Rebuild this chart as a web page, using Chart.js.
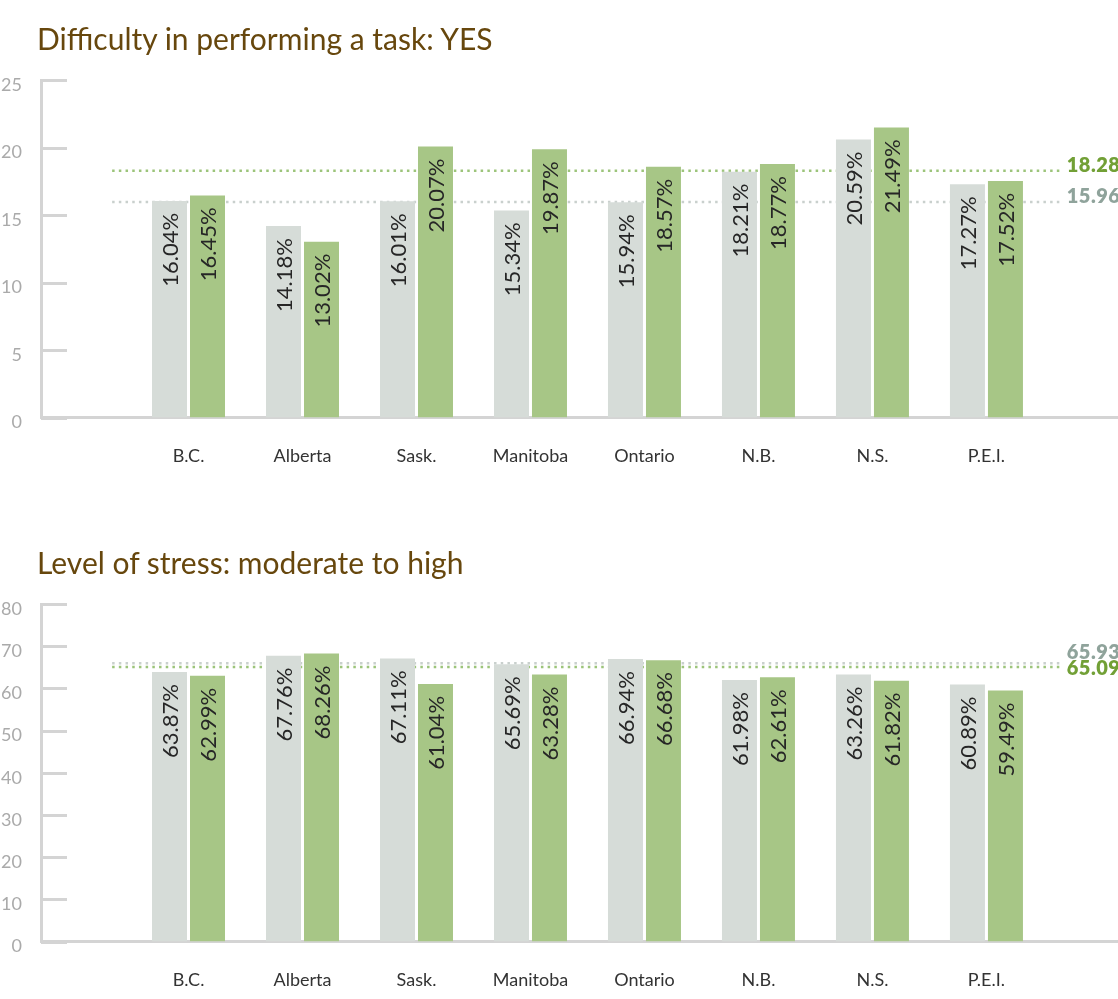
<!DOCTYPE html>
<html><head><meta charset="utf-8">
<script src="https://cdn.jsdelivr.net/npm/chart.js@4"></script>
<style>
html,body{margin:0;padding:0;background:#fff;}
body{width:1118px;height:999px;position:relative;overflow:hidden;font-family:Lato, sans-serif;}
.box{position:absolute;left:0;width:1118px;height:475px;}
.title{position:absolute;left:37px;font-family:Lato, sans-serif;font-size:30px;line-height:30px;color:#67470d;white-space:nowrap;}
</style></head><body>
<div class="box" style="top:0px"><canvas id="c1"></canvas></div>
<div class="box" style="top:524px"><canvas id="c2"></canvas></div>
<div class="title" style="top:23px">Difficulty in performing a task: YES</div>
<div class="title" style="top:547px">Level of stress: moderate to high</div>
<script>
const categories = ['B.C.', 'Alberta', 'Sask.', 'Manitoba', 'Ontario', 'N.B.', 'N.S.', 'P.E.I.'];

const taskGrey  = [16.04, 14.18, 16.01, 15.34, 15.94, 18.21, 20.59, 17.27];
const taskGreen = [16.45, 13.02, 20.07, 19.87, 18.57, 18.77, 21.49, 17.52];
const taskAvgGrey = 15.96;
const taskAvgGreen = 18.28;
const taskTicks = [0, 5, 10, 15, 20, 25];

const stressGrey  = [63.87, 67.76, 67.11, 65.69, 66.94, 61.98, 63.26, 60.89];
const stressGreen = [62.99, 68.26, 61.04, 63.28, 66.68, 62.61, 61.82, 59.49];
const stressAvgGrey = 65.93;
const stressAvgGreen = 65.09;
const stressTicks = [0, 10, 20, 30, 40, 50, 60, 70, 80];

const GREY_BAR = '#d6dcd8', GREEN_BAR = '#a7c686';
const GREY_DOT = '#c9d0cd', GREEN_DOT = '#9cc47a';
const GREY_TXT = '#8fa39b', GREEN_TXT = '#72a036';
const AXIS = '#d4d4d4';

const decorPlugin = {
  id: 'decor',
  beforeDatasetsDraw(chart, args, opts) {
    const ctx = chart.ctx, x = chart.scales.x, y = chart.scales.y, ca = chart.chartArea;
    ctx.save();
    // tick stubs on y axis
    ctx.strokeStyle = AXIS; ctx.lineWidth = 3;
    y.ticks.forEach(t => {
      const py = Math.round(y.getPixelForValue(t.value)) + 0.5;
      ctx.beginPath(); ctx.moveTo(ca.left, py); ctx.lineTo(ca.left + 26, py); ctx.stroke();
    });
    // average dotted lines
    const x0 = x.getPixelForValue(-0.67), x1 = x.getPixelForValue(7.66);
    const lines = opts.avgs.map(a => ({...a, py: y.getPixelForValue(a.value)}));
    ctx.lineWidth = 2.5; ctx.setLineDash([2.5, 4.2]);
    lines.forEach(l => {
      ctx.strokeStyle = l.dot;
      ctx.beginPath(); ctx.moveTo(x0, l.py); ctx.lineTo(x1, l.py); ctx.stroke();
    });
    ctx.setLineDash([]);
    // labels
    lines.forEach(l => l.ly = l.py - 5);
    const [a, b] = lines;
    if (Math.abs(a.py - b.py) < 18) {
      const mid = (a.py + b.py) / 2 - 5;
      const upper = a.py < b.py ? a : b, lower = upper === a ? b : a;
      upper.ly = mid - 8; lower.ly = mid + 8;
    }
    ctx.font = '800 20px Lato, sans-serif';
    ctx.letterSpacing = '0.5px';
    ctx.textAlign = 'left'; ctx.textBaseline = 'middle';
    lines.forEach(l => {
      ctx.fillStyle = l.txt;
      ctx.fillText(l.value.toFixed(2) + '%', x1 + 5, l.ly);
    });
    ctx.restore();
  },
  afterDatasetsDraw(chart) {
    const ctx = chart.ctx;
    ctx.save();
    ctx.font = '22px Lato, sans-serif';
    ctx.fillStyle = '#262626';
    ctx.textAlign = 'right'; ctx.textBaseline = 'middle';
    chart.data.datasets.forEach((ds, di) => {
      chart.getDatasetMeta(di).data.forEach((bar, i) => {
        ctx.save();
        ctx.translate(bar.x + 1, bar.y + 12);
        ctx.rotate(-Math.PI / 2);
        ctx.fillText(ds.data[i].y.toFixed(2) + '%', 0, 0);
        ctx.restore();
      });
    });
    ctx.restore();
  }
};

function makeChart(id, grey, green, avgGrey, avgGreen, ticks) {
  return new Chart(document.getElementById(id), {
    type: 'bar',
    data: {
      datasets: [
        { label: 'Grey', data: grey.map((v, i) => ({x: i, y: v})), backgroundColor: GREY_BAR, borderWidth: 0 },
        { label: 'Green', data: green.map((v, i) => ({x: i, y: v})), backgroundColor: GREEN_BAR, borderWidth: 0 }
      ]
    },
    options: {
      responsive: true, maintainAspectRatio: false, animation: false,
      devicePixelRatio: 1,
      categoryPercentage: 76 / 114, barPercentage: 35 / 38,
      layout: { padding: { top: 80, right: 0, bottom: 0, left: 0 } },
      plugins: {
        legend: { display: false }, tooltip: { enabled: false }, title: { display: false },
        decor: { avgs: [
          { value: avgGreen, dot: GREEN_DOT, txt: GREEN_TXT },
          { value: avgGrey, dot: GREY_DOT, txt: GREY_TXT }
        ] }
      },
      scales: {
        x: {
          type: 'linear', min: -1.294, max: 8.154, offset: false,
          afterBuildTicks: s => { s.ticks = categories.map((c, i) => ({ value: i })); },
          afterFit: s => { s.height = 57.5; },
          grid: { display: false, drawTicks: false, offset: false },
          border: { display: true, color: AXIS, width: 3 },
          ticks: { callback: v => categories[v] ?? '', color: '#333', font: { family: 'Lato', size: 18 }, padding: 28, maxRotation: 0, autoSkip: false }
        },
        y: {
          min: ticks[0], max: ticks[ticks.length - 1],
          afterBuildTicks: s => { s.ticks = ticks.map(v => ({ value: v })); },
          afterFit: s => { s.width = 41; },
          grid: { display: false, drawTicks: false },
          border: { display: true, color: AXIS, width: 3 },
          ticks: { color: '#aaaaaa', font: { family: 'Lato', size: 18 }, padding: 19, labelOffset: 5 }
        }
      }
    },
    plugins: [decorPlugin]
  });
}

makeChart('c1', taskGrey, taskGreen, taskAvgGrey, taskAvgGreen, taskTicks);
makeChart('c2', stressGrey, stressGreen, stressAvgGrey, stressAvgGreen, stressTicks);
</script>
</body></html>
